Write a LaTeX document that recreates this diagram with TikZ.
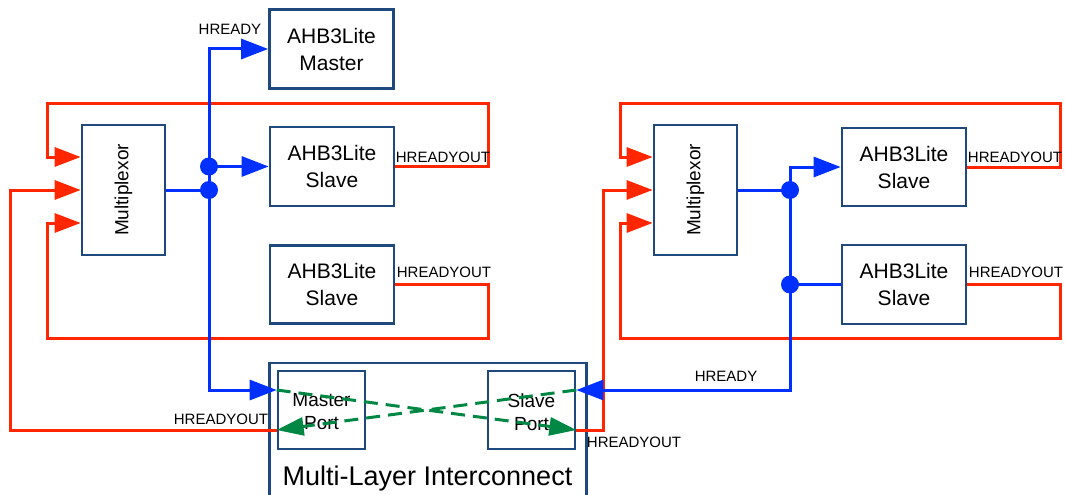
\documentclass[tikz,border=0pt]{standalone}
\usepackage{fontspec}
\setmainfont{Liberation Sans}
\usetikzlibrary{arrows.meta}
\definecolor{boxc}{RGB}{31,73,125}
\definecolor{bluec}{RGB}{0,48,255}
\definecolor{redc}{RGB}{255,38,0}
\definecolor{greenc}{RGB}{0,135,68}
\tikzset{
  box/.style={draw=boxc, line width=2.7pt, inner sep=0pt, align=center, font=\fontsize{21}{27}\selectfont},
  portbox/.style={box, font=\fontsize{19}{23}\selectfont},
  lbl/.style={font=\fontsize{15}{18}\selectfont, inner sep=0pt},
  bl/.style={draw=bluec, line width=3pt},
  blarr/.style={bl, -{Triangle[length=27pt,width=20pt]}},
  rd/.style={draw=redc, line width=3pt},
  rdarr/.style={rd, -{Triangle[length=26pt,width=19pt]}},
  garr/.style={draw=greenc, line width=3pt, dash pattern=on 14pt off 8pt, -{Triangle[length=27pt,width=18pt]}},
  dot/.style={circle, fill=bluec, inner sep=0pt, minimum size=18pt}
}
\begin{document}
\begin{tikzpicture}[x=1pt,y=-1pt]
\useasboundingbox (0,0) rectangle (1065,495);
\clip (0,0) rectangle (1065,495);
% boxes
\node[box, minimum width=124pt, minimum height=79pt] (master) at (331.5,49) {AHB3Lite\\Master};
\node[box, minimum width=124pt, minimum height=79pt] (slaveL1) at (332,166.5) {AHB3Lite\\Slave};
\node[box, minimum width=124pt, minimum height=78pt] (slaveL2) at (332,284.5) {AHB3Lite\\Slave};
\node[box, minimum width=83pt, minimum height=130pt] (muxL) at (123.5,190) {};
\node[box, minimum width=83pt, minimum height=130pt] (muxR) at (695.5,190) {};
\node[rotate=90, font=\fontsize{19}{23}\selectfont, inner sep=0pt] (muxLt) at (muxL.center) {Multiplexor};
\node[rotate=90, font=\fontsize{19}{23}\selectfont, inner sep=0pt] (muxRt) at (muxR.center) {Multiplexor};
\node[box, minimum width=124pt, minimum height=78pt] (slaveR1) at (904,167) {AHB3Lite\\Slave};
\node[box, minimum width=124pt, minimum height=79pt] (slaveR2) at (904,284.5) {AHB3Lite\\Slave};
\node[box, minimum width=317pt, minimum height=160pt] (ic) at (428,443) {};
\node[font=\fontsize{27}{31}\selectfont, inner sep=0pt] (ict) at (427.5,479) {Multi-Layer Interconnect};
\node[portbox, minimum width=87pt, minimum height=78pt] (mport) at (321.5,410) {};
\node[portbox, minimum width=87pt, minimum height=78pt] (sport) at (531.5,410) {};
\node[font=\fontsize{19}{23}\selectfont, align=center, inner sep=0pt] (mportt) at (321.5,412) {Master\\Port};
\node[font=\fontsize{19}{23}\selectfont, align=center, inner sep=0pt] (sportt) at (531.5,412) {Slave\\Port};
% coordinates
\coordinate (mpIn) at ([yshift=20pt]mport.west);
\coordinate (mpOut) at ([yshift=-20pt]mport.west);
\coordinate (spIn) at ([yshift=20pt]sport.east);
\coordinate (spOut) at ([yshift=-20pt]sport.east);
\coordinate (inL1) at ([yshift=33pt]muxL.west);
\coordinate (inL3) at ([yshift=-33pt]muxL.west);
\coordinate (inR1) at ([yshift=33pt]muxR.west);
\coordinate (inR3) at ([yshift=-33pt]muxR.west);
\coordinate (dotL1) at (209,166.5);
\coordinate (dotL2) at (209,190);
\coordinate (dotR1) at (790,190);
\coordinate (dotR2) at (790,284.5);
% red
\draw[rdarr] (slaveL1.east) -| (488,103) -| (47,157) -- (inL1);
\draw[rdarr] (slaveL2.east) -| (488,338) -| (47,223) -- (inL3);
\draw[rdarr] (mpOut) -| (10,190) -- (muxL.west);
\draw[rdarr] (slaveR1.east) -| (1060,103) -| (620,157) -- (inR1);
\draw[rdarr] (slaveR2.east) -| (1060,338) -| (620,223) -- (inR3);
\draw[rdarr] (spOut) -| (603,190) -- (muxR.west);
% blue
\draw[bl] (muxL.east) -- (dotL2);
\draw[blarr] (dotL2) |- (mpIn);
\draw[blarr] (dotL2) -- (dotL1) |- (master.west);
\draw[blarr] (dotL1) -- (slaveL1.west);
\draw[bl] (muxR.east) -- (dotR1);
\draw[blarr] (dotR1) |- (slaveR1.west);
\draw[bl] (dotR2) -- (slaveR2.west);
\draw[blarr] (dotR1) -- (dotR2) |- (spIn);
\node[dot] (d1) at (dotL1) {};
\node[dot] (d2) at (dotL2) {};
\node[dot] (d3) at (dotR1) {};
\node[dot] (d4) at (dotR2) {};
% green
\draw[garr] (mpIn) -- (spOut);
\draw[garr] (spIn) -- (mpOut);
% labels
\node[lbl] (l1) at (230,29) {HREADY};
\node[lbl] (l2) at (443,157) {HREADYOUT};
\node[lbl] (l3) at (444,272) {HREADYOUT};
\node[lbl] (l4) at (1015,157) {HREADYOUT};
\node[lbl] (l5) at (1016,272) {HREADYOUT};
\node[lbl] (l6) at (221,419) {HREADYOUT};
\node[lbl] (l7) at (634,442) {HREADYOUT};
\node[lbl] (l8) at (726,376) {HREADY};
\end{tikzpicture}
\end{document}
